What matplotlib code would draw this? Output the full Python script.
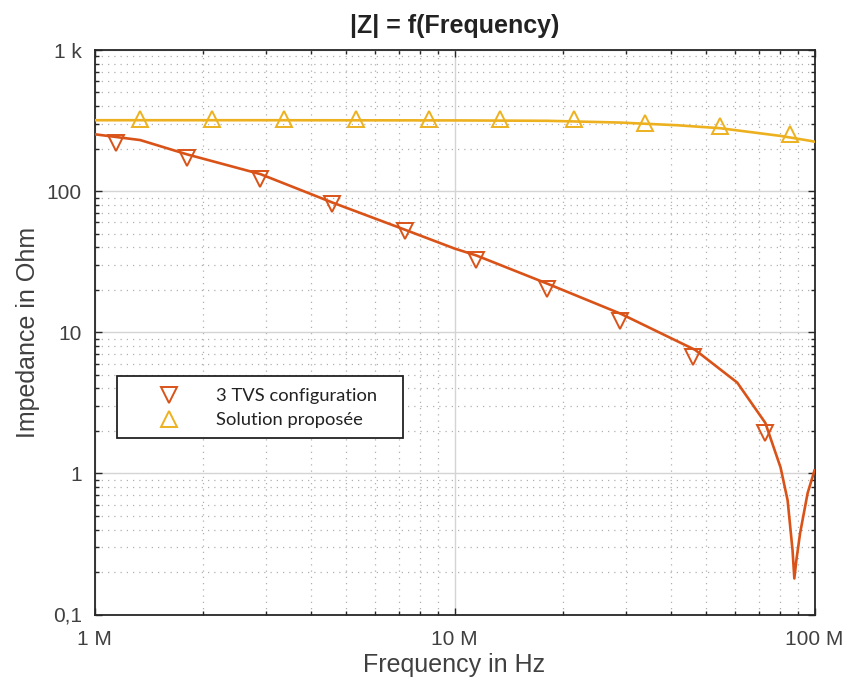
import matplotlib
matplotlib.use("Agg")
import matplotlib.pyplot as plt
from matplotlib.lines import Line2D
from matplotlib.patches import Rectangle
from matplotlib.ticker import FixedLocator, FixedFormatter, LogLocator, NullFormatter

# ---- data ----
# 3 TVS configuration: curve
red_f = [1.0e6, 1.34e6, 1.81e6, 2.89e6, 4.58e6, 7.25e6, 10.0e6, 11.5e6, 18.1e6,
         29.0e6, 46.6e6, 61.0e6, 73.0e6, 80.5e6, 84.2e6, 86.9e6, 87.9e6,
         89.0e6, 91.2e6, 95.7e6, 100e6]
red_z = [253, 230, 182, 132, 83, 53.5, 39.2, 35, 22.1,
         13.5, 7.5, 4.4, 2.28, 1.1, 0.645, 0.285, 0.18,
         0.24, 0.377, 0.725, 1.05]
# 3 TVS configuration: markers
red_mf = [1.144e6, 1.81e6, 2.89e6, 4.58e6, 7.27e6, 11.5e6, 18.1e6, 28.9e6, 46.0e6, 73.0e6]
red_mz = [220, 171, 121, 80.5, 52, 32.4, 20.4, 12.1, 6.67, 1.93]

# Solution proposée: curve
yel_f = [1.0e6, 3.0e6, 10e6, 18.1e6, 28.9e6, 41.5e6, 54.8e6, 80.6e6, 97.5e6, 100e6]
yel_z = [318, 318, 317, 315, 306, 293, 279, 246, 227, 224]
# Solution proposée: markers
yel_mf = [1.342e6, 2.127e6, 3.37e6, 5.34e6, 8.47e6, 13.4e6, 21.5e6, 33.9e6, 54.5e6, 85.7e6]
yel_mz = [326, 326, 326, 326, 326, 324, 324, 306, 290, 253]

x_ticks = [1e6, 1e7, 1e8]
x_labels = ["1 M", "10 M", "100 M"]
y_ticks = [0.1, 1, 10, 100, 1000]
y_labels = ["0,1", "1", "10", "100", "1 k"]
series_names = ["3 TVS configuration", "Solution proposée"]

RED = "#D95319"
YEL = "#EDB120"
TXT = "#404040"

plt.rcParams['font.family'] = ['Liberation Sans', 'DejaVu Sans']

W, H = 850, 686
fig = plt.figure(figsize=(W/100, H/100), dpi=100)
L, R, T, B = 94.5, 814.5, 50, 614.5
ax = fig.add_axes([L/W, 1-B/H, (R-L)/W, (B-T)/H])

ax.plot(yel_f, yel_z, color=YEL, lw=1.9, zorder=3)
ax.plot(yel_mf, yel_mz, ls='none', marker='^', ms=11.5, mfc='none', mec=YEL, mew=1.4, zorder=4)
ax.plot(red_f, red_z, color=RED, lw=1.9, zorder=3)
ax.plot(red_mf, red_mz, ls='none', marker='v', ms=11.5, mfc='none', mec=RED, mew=1.4, zorder=4)

ax.set_xscale('log')
ax.set_yscale('log')
ax.set_xlim(1e6, 1e8)
ax.set_ylim(0.1, 1000)

ax.xaxis.set_major_locator(FixedLocator(x_ticks))
ax.xaxis.set_major_formatter(FixedFormatter(x_labels))
ax.yaxis.set_major_locator(FixedLocator(y_ticks))
ax.yaxis.set_major_formatter(FixedFormatter(y_labels))
ax.xaxis.set_minor_locator(LogLocator(base=10, subs=range(2, 10)))
ax.yaxis.set_minor_locator(LogLocator(base=10, subs=range(2, 10)))
ax.xaxis.set_minor_formatter(NullFormatter())
ax.yaxis.set_minor_formatter(NullFormatter())

ax.grid(which='major', color='#d4d4d4', lw=1.0, ls='-', zorder=0)
ax.grid(which='minor', color='#b0b0b0', lw=0.9, ls=(0, (1, 4)), zorder=0)
ax.set_axisbelow(True)

ax.tick_params(which='both', direction='in', top=True, right=True, colors='#262626',
               labelcolor=TXT, labelsize=15)
ax.tick_params(which='major', length=5, width=1)
ax.tick_params(which='minor', length=3, width=1)
ax.tick_params(axis='x', pad=11)
ax.tick_params(axis='y', pad=9)
for s in ax.spines.values():
    s.set_color('#262626')
    s.set_linewidth(1.3)

ax.set_xlabel("Frequency in Hz", fontsize=18, color=TXT, labelpad=3)
ax.set_ylabel("Impedance in Ohm", fontsize=18, color=TXT, labelpad=5)
ax.set_title("|Z| = f(Frequency)", fontsize=18, fontweight='bold', color='#222222', pad=12)

# legend frame (drawn as a box in pixel position of the reference)
bx0, bx1, by0, by1 = 117, 403, 376, 438
ax.add_patch(Rectangle(((bx0-L)/(R-L), (B-by1)/(B-T)), (bx1-bx0)/(R-L), (by1-by0)/(B-T),
                       transform=ax.transAxes, facecolor='white', edgecolor='#222222',
                       lw=1.3, zorder=5))
handles = [Line2D([], [], ls='none', marker='v', ms=12, mfc='none', mec=RED, mew=1.4),
           Line2D([], [], ls='none', marker='^', ms=12, mfc='none', mec=YEL, mew=1.4)]
leg = ax.legend(handles, series_names, loc='upper left',
                bbox_to_anchor=(143/W, 1-381/H), bbox_transform=fig.transFigure,
                frameon=False, handlelength=2.0, handletextpad=1.6, borderpad=0.4,
                labelspacing=0.42, prop={'family': 'Lato', 'size': 13.2}, borderaxespad=0)
leg.set_zorder(6)
for t in leg.get_texts():
    t.set_color('#222222')

fig.savefig("out.png", dpi=100)
